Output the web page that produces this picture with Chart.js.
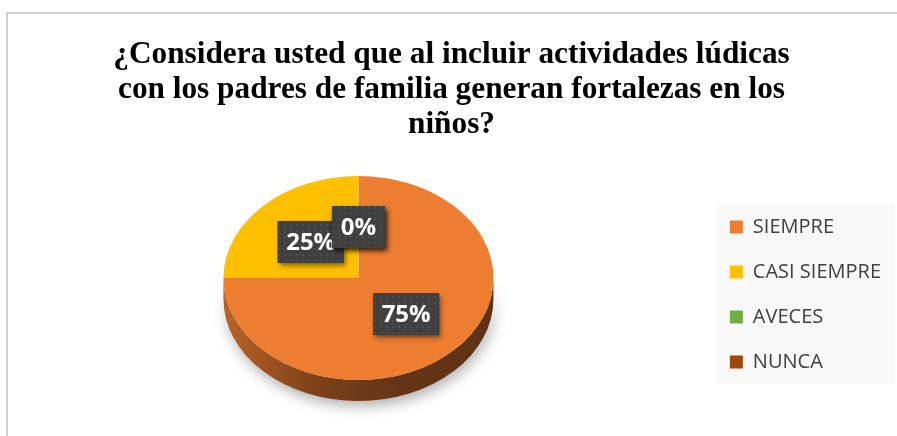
<!DOCTYPE html>
<html>
<head>
<meta charset="utf-8">
<script src="https://cdn.jsdelivr.net/npm/chart.js@4.4.1/dist/chart.umd.min.js"></script>
<style>
  html, body { margin: 0; padding: 0; background: #fff; }
</style>
</head>
<body>
<canvas id="grafico" width="897" height="436"></canvas>
<script>
// Datos de la encuesta
const tituloLineas = [
    '¿Considera usted que al incluir actividades lúdicas',
    'con los padres de familia generan fortalezas en los',
    'niños?'
];
const categorias = ['SIEMPRE', 'CASI SIEMPRE', 'AVECES', 'NUNCA'];
const porcentajes = [75, 25, 0, 0];
const colores = ['#ED7D31', '#FFC000', '#70AD47', '#9E480E'];

// aspecto del pastel 3D
const inclinacion = 0.755;
const grosor = 21;

function oscurecer(hex, f) {
    const n = parseInt(hex.slice(1), 16);
    const r = Math.round(((n >> 16) & 255) * f);
    const g = Math.round(((n >> 8) & 255) * f);
    const b = Math.round((n & 255) * f);
    return `rgb(${r},${g},${b})`;
}

// patrón punteado de las etiquetas
const patronCanvas = document.createElement('canvas');
patronCanvas.width = 6;
patronCanvas.height = 6;
const pctx = patronCanvas.getContext('2d');
pctx.fillStyle = '#404040';
pctx.fillRect(0, 0, 6, 6);
pctx.fillStyle = '#4e4e4e';
pctx.fillRect(2, 2, 2, 2);

// 1. Fondo, borde y fondo gris de la leyenda
const fondo = {
    id: 'fondo',
    beforeDraw(chart) {
        const ctx = chart.ctx;
        ctx.save();
        ctx.fillStyle = '#fff';
        ctx.fillRect(0, 0, chart.width, chart.height);
        ctx.strokeStyle = '#d0d0d0';
        ctx.lineWidth = 2;
        ctx.strokeRect(7, 13, chart.width + 20, chart.height + 20);

        const cajas = chart.legend && chart.legend.legendHitBoxes;
        if (cajas && cajas.length) {
            const primera = cajas[0];
            const ultima = cajas[cajas.length - 1];
            const x0 = primera.left - 14;
            const y0 = primera.top + primera.height / 2 - 23;
            const y1 = ultima.top + ultima.height / 2 + 22;
            ctx.fillStyle = '#f8f8f8';
            ctx.fillRect(x0, y0, chart.width - 2 - x0, y1 - y0);
        }
        ctx.restore();
    }
};

// 2. Pastel inclinado con canto y etiquetas
const pastel3D = {
    id: 'pastel3D',
    beforeDatasetsDraw(chart) {
        const arcos = chart.getDatasetMeta(0).data;
        if (!arcos.length) return;
        const { x, y, outerRadius: r } = arcos[0];
        const ry = r * inclinacion;
        const ctx = chart.ctx;

        arcos.forEach((arco, i) => {
            [0, 2 * Math.PI, -2 * Math.PI].forEach(d => {
                const a0 = Math.max(arco.startAngle + d, 0);
                const a1 = Math.min(arco.endAngle + d, Math.PI);
                if (a1 - a0 <= 0.001) return;
                const grad = ctx.createLinearGradient(x - r, 0, x + r, 0);
                const c = colores[i];
                grad.addColorStop(0, oscurecer(c, 0.78));
                grad.addColorStop(0.35, oscurecer(c, 0.52));
                grad.addColorStop(0.65, oscurecer(c, 0.42));
                grad.addColorStop(1, oscurecer(c, 0.4));
                ctx.save();
                ctx.shadowColor = 'rgba(0,0,0,0.32)';
                ctx.shadowBlur = 14;
                ctx.shadowOffsetX = 2;
                ctx.shadowOffsetY = 5;
                ctx.fillStyle = grad;
                ctx.beginPath();
                ctx.ellipse(x, y, r, ry, 0, a0, a1, false);
                ctx.ellipse(x, y + grosor, r, ry, 0, a1, a0, true);
                ctx.closePath();
                ctx.fill();
                ctx.restore();
            });
        });

        ctx.save();
        ctx.translate(x, y);
        ctx.scale(1, inclinacion);
        ctx.translate(-x, -y);
    },
    afterDatasetsDraw(chart) {
        const arcos = chart.getDatasetMeta(0).data;
        if (!arcos.length) return;
        const ctx = chart.ctx;
        ctx.restore();

        const { x, y, outerRadius: r } = arcos[0];
        const total = porcentajes.reduce((a, b) => a + b, 0);
        ctx.save();
        ctx.font = 'bold 24px "Open Sans"';
        ctx.textAlign = 'center';
        ctx.textBaseline = 'middle';
        arcos.forEach((arco, i) => {
            const medio = (arco.startAngle + arco.endAngle) / 2;
            const px = x + Math.cos(medio) * r * 0.5;
            const py = y + Math.sin(medio) * r * 0.5 * inclinacion;
            const texto = Math.round(porcentajes[i] / total * 100) + '%';
            const w = ctx.measureText(texto).width + 17;
            const h = 42;

            ctx.save();
            ctx.shadowColor = 'rgba(0,0,0,0.5)';
            ctx.shadowBlur = 5;
            ctx.shadowOffsetX = 2;
            ctx.shadowOffsetY = 3;
            ctx.fillStyle = '#404040';
            ctx.fillRect(px - w / 2, py - h / 2, w, h);
            ctx.restore();
            ctx.fillStyle = ctx.createPattern(patronCanvas, 'repeat');
            ctx.fillRect(px - w / 2, py - h / 2, w, h);

            ctx.fillStyle = '#ffffff';
            ctx.fillText(texto, px, py + 1);
        });
        ctx.restore();
    }
};

new Chart(document.getElementById('grafico'), {
    type: 'pie',
    data: {
        labels: categorias,
        datasets: [{
            data: porcentajes,
            backgroundColor: colores,
            borderWidth: 0,
            hoverOffset: 0
        }]
    },
    options: {
        responsive: false,
        animation: false,
        layout: { padding: { left: 12, right: 6, top: 0, bottom: 23 } },
        plugins: {
            title: {
                display: true,
                text: tituloLineas,
                color: '#000000',
                font: { family: '"Liberation Serif", "Times New Roman", serif', size: 31.3, weight: 'bold', lineHeight: 35 / 31.3 },
                padding: { top: 37, bottom: 1 }
            },
            legend: {
                position: 'right',
                fullSize: false,
                title: { display: true, text: '', font: { size: 10 }, padding: { top: 21, bottom: 0 } },
                labels: {
                    boxWidth: 13,
                    boxHeight: 13,
                    padding: 25,
                    color: '#404040',
                    font: { family: '"Open Sans", sans-serif', size: 20 }
                }
            },
            tooltip: { enabled: false }
        }
    },
    plugins: [fondo, pastel3D]
});
</script>
</body>
</html>
